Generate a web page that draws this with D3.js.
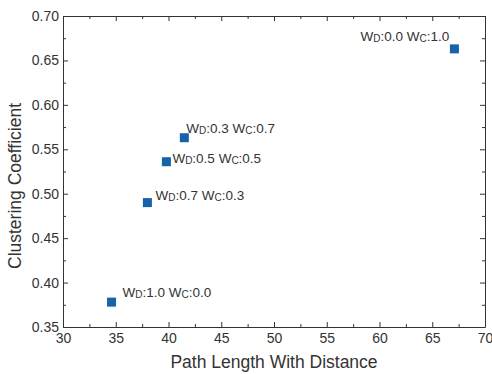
<!DOCTYPE html>
<html>
<head>
<meta charset="utf-8">
<script src="https://cdn.jsdelivr.net/npm/d3@7"></script>
<style>
	body { margin: 0; background: #fff; }
	svg text { font-family: "Liberation Sans", Arial, sans-serif; fill: #333; }
</style>
</head>
<body>
<div id="chart"></div>
<script>
// weights for distance / clustering, and the measured values
const weightD = ['1.0', '0.7', '0.5', '0.3', '0.0'];
const weightC = ['0.0', '0.3', '0.5', '0.7', '1.0'];
const pathLength = [34.6, 38.0, 39.8, 41.5, 67.1];
const clustering = [0.378, 0.490, 0.536, 0.563, 0.663];

const xTicks = [30, 35, 40, 45, 50, 55, 60, 65, 70];
const yTicks = [0.35, 0.40, 0.45, 0.50, 0.55, 0.60, 0.65, 0.70];

// label offsets from each marker (layout only)
const labelDx = [11, 8, 6, 2, -94];
const labelDy = [-5, -3, 1, -5, -8];

const width = 492;
const height = 374;
const margin = { top: 16, right: 7, bottom: 47, left: 63 };
const chartWidth = width - margin.left - margin.right;
const chartHeight = height - margin.top - margin.bottom;

const svg = d3.select('#chart').append('svg')
	.attr('width', width)
	.attr('height', height);

const g = svg.append('g').attr('transform', `translate(${margin.left},${margin.top})`);

const xScale = d3.scaleLinear().domain([30, 70]).range([0, chartWidth]);
const yScale = d3.scaleLinear().domain([0.35, 0.70]).range([chartHeight, 0]);

const xMinor = d3.range(32.5, 70, 5);
const yMinor = d3.range(0.375, 0.70, 0.05);

function styleAxis(sel) {
	sel.select('.domain').attr('stroke', '#333').attr('stroke-width', 1);
	sel.selectAll('.tick line').attr('stroke', '#333');
	sel.selectAll('.tick text').style('font-size', '14px').attr('fill', '#333');
}

// bottom
g.append('g')
	.attr('transform', `translate(0,${chartHeight})`)
	.call(d3.axisBottom(xScale).tickValues(xTicks).tickSizeInner(-5).tickSizeOuter(0).tickPadding(6))
	.call(styleAxis);
g.append('g')
	.attr('transform', `translate(0,${chartHeight})`)
	.call(d3.axisBottom(xScale).tickValues(xMinor).tickSize(-3).tickFormat(''))
	.call((s) => s.select('.domain').remove())
	.call(styleAxis);

// top
g.append('g')
	.call(d3.axisTop(xScale).tickValues(xTicks).tickSizeInner(-5).tickSizeOuter(0).tickFormat(''))
	.call(styleAxis);
g.append('g')
	.call(d3.axisTop(xScale).tickValues(xMinor).tickSize(-3).tickFormat(''))
	.call((s) => s.select('.domain').remove())
	.call(styleAxis);

// left
g.append('g')
	.call(d3.axisLeft(yScale).tickValues(yTicks).tickFormat(d3.format('.2f')).tickSizeInner(-5).tickSizeOuter(0).tickPadding(4))
	.call(styleAxis);
g.append('g')
	.call(d3.axisLeft(yScale).tickValues(yMinor).tickSize(-3).tickFormat(''))
	.call((s) => s.select('.domain').remove())
	.call(styleAxis);

// right
g.append('g')
	.attr('transform', `translate(${chartWidth},0)`)
	.call(d3.axisRight(yScale).tickValues(yTicks).tickSizeInner(-5).tickSizeOuter(0).tickFormat(''))
	.call(styleAxis);
g.append('g')
	.attr('transform', `translate(${chartWidth},0)`)
	.call(d3.axisRight(yScale).tickValues(yMinor).tickSize(-3).tickFormat(''))
	.call((s) => s.select('.domain').remove())
	.call(styleAxis);

// axis titles
svg.append('text')
	.attr('x', margin.left + chartWidth / 2)
	.attr('y', 368)
	.attr('text-anchor', 'middle')
	.style('font-size', '17.5px')
	.text('Path Length With Distance');

svg.append('text')
	.attr('transform', 'translate(21,186) rotate(-90)')
	.attr('text-anchor', 'middle')
	.style('font-size', '17.5px')
	.text('Clustering Coefficient');

const points = d3.zip(pathLength, clustering, weightD, weightC);
const size = 9;

g.selectAll('.dot')
	.data(points)
	.enter().append('rect')
	.attr('class', 'dot')
	.attr('x', (d) => xScale(d[0]) - size / 2)
	.attr('y', (d) => yScale(d[1]) - size / 2)
	.attr('width', size)
	.attr('height', size)
	.attr('fill', '#1763aa');

const labels = g.selectAll('.lbl')
	.data(points)
	.enter().append('text')
	.attr('class', 'lbl')
	.attr('x', (d, i) => xScale(d[0]) + labelDx[i])
	.attr('y', (d, i) => yScale(d[1]) + labelDy[i])
	.style('font-size', '13.5px');

labels.each(function(d) {
	const t = d3.select(this);
	t.append('tspan').text('W');
	t.append('tspan').attr('dy', 1).style('font-size', '10px').text('D');
	t.append('tspan').attr('dy', -1).text(`:${d[2]} W`);
	t.append('tspan').attr('dy', 1).style('font-size', '10px').text('C');
	t.append('tspan').attr('dy', -1).text(`:${d[3]}`);
});
</script>
</body>
</html>
